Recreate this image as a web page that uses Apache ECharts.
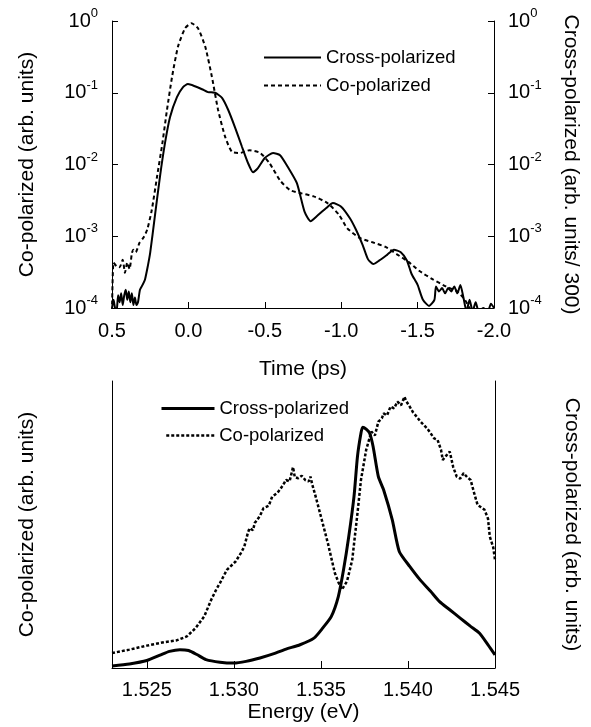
<!DOCTYPE html>
<html>
<head>
<meta charset="utf-8">
<script src="https://cdn.jsdelivr.net/npm/echarts@6/dist/echarts.min.js"></script>
<style>
html,body{margin:0;padding:0;background:#fff;}
#chart{width:591px;height:727px;}
</style>
</head>
<body>
<div id="chart"></div>
<script>
// ---- Top panel: time-resolved (log scale) ----
const timeCo = [0.50,0.49,0.47,0.45,0.43,0.415,0.40,0.385,0.37,0.36,0.345,0.32,0.295,0.27,0.24,0.205,0.17,0.14,0.107,0.068,0.022,-0.02,-0.063,-0.11,-0.154,-0.194,-0.24,-0.285,-0.34,-0.40,-0.47,-0.53,-0.60,-0.665,-0.73,-0.82,-0.91,-0.985,-1.04,-1.12,-1.20,-1.29,-1.365,-1.44,-1.51,-1.60,-1.685,-1.76,-1.81,-1.84,-1.87];
const coTop = [0.9e-4,4.3e-4,3.8e-4,3.7e-4,4.7e-4,3.1e-4,4.3e-4,3.5e-4,5.8e-4,6.5e-4,6.0e-4,8.1e-4,9.5e-4,1.23e-3,2.3e-3,6.8e-3,2.0e-2,5.8e-2,0.166,0.44,0.79,0.93,0.79,0.44,0.166,5.8e-2,2.45e-2,1.5e-2,1.45e-2,1.58e-2,1.45e-2,1.05e-2,6.0e-3,4.4e-3,4.0e-3,3.6e-3,2.9e-3,2.0e-3,1.29e-3,9.5e-4,8.3e-4,7.1e-4,5.6e-4,4.4e-4,3.3e-4,2.5e-4,2.0e-4,1.7e-4,1.3e-4,1.0e-4,0.8e-4];

const timeCross = [0.50,0.49,0.48,0.47,0.46,0.45,0.44,0.43,0.42,0.41,0.40,0.39,0.38,0.37,0.36,0.35,0.34,0.33,0.317,0.30,0.284,0.265,0.25,0.22,0.186,0.153,0.12,0.075,0.035,0.003,-0.043,-0.089,-0.128,-0.174,-0.22,-0.26,-0.305,-0.35,-0.39,-0.423,-0.455,-0.50,-0.554,-0.60,-0.65,-0.71,-0.76,-0.80,-0.84,-0.90,-0.946,-0.998,-1.057,-1.097,-1.14,-1.175,-1.21,-1.25,-1.30,-1.345,-1.39,-1.43,-1.46,-1.50,-1.535,-1.575,-1.61,-1.62,-1.64,-1.66,-1.68,-1.70,-1.72,-1.74,-1.76,-1.78,-1.80,-1.82,-1.84,-1.86,-1.88,-1.90,-1.93,-1.96,-1.98,-2.0];
const crossTop = [1.0e-4,1.3e-4,1.0e-4,0.9e-4,1.5e-4,1.2e-4,1.6e-4,1.1e-4,1.5e-4,1.8e-4,1.3e-4,1.7e-4,1.2e-4,1.6e-4,1.1e-4,1.4e-4,1.1e-4,1.2e-4,1.8e-4,2.1e-4,2.5e-4,3.9e-4,5.9e-4,1.86e-3,6.8e-3,2.0e-2,4.6e-2,8.7e-2,0.12,0.132,0.123,0.112,0.102,0.100,0.085,0.058,0.033,0.0178,0.0105,0.0078,0.0089,0.0123,0.0145,0.0135,0.0093,0.0055,0.0022,0.00162,0.0019,0.00245,0.0029,0.0026,0.00178,0.00123,7.6e-4,4.8e-4,4.1e-4,4.6e-4,5.5e-4,6.5e-4,6.0e-4,4.6e-4,3.0e-4,2.1e-4,1.3e-4,1.07e-4,1.3e-4,2.0e-4,1.7e-4,1.9e-4,1.6e-4,1.9e-4,1.7e-4,2.0e-4,1.6e-4,2.1e-4,1.4e-4,0.9e-4,1.3e-4,0.9e-4,1.2e-4,0.9e-4,1.0e-4,0.9e-4,1.15e-4,1.0e-4];

const timeTicks = [0.5, 0.0, -0.5, -1.0, -1.5, -2.0];

// ---- Bottom panel: spectra (linear, arb. units) ----
const energyCross = [1.5230,1.5240,1.5250,1.5258,1.5263,1.5269,1.5274,1.5279,1.5284,1.5292,1.5300,1.5307,1.5315,1.5323,1.5330,1.5338,1.5346,1.5351,1.5356,1.5360,1.5363,1.5366,1.5369,1.5371,1.5373,1.5374,1.5376,1.5378,1.5380,1.5383,1.5386,1.5391,1.5395,1.5401,1.5407,1.5413,1.5418,1.5424,1.5430,1.5436,1.5441,1.5446,1.5450];
const crossBottom = [0.007,0.014,0.026,0.046,0.058,0.064,0.061,0.046,0.029,0.020,0.017,0.023,0.035,0.050,0.066,0.081,0.104,0.139,0.180,0.249,0.342,0.458,0.597,0.737,0.818,0.839,0.832,0.818,0.771,0.667,0.621,0.516,0.406,0.354,0.307,0.267,0.232,0.203,0.174,0.145,0.122,0.081,0.046];

const energyCo = [1.5230,1.5240,1.5250,1.5260,1.5267,1.5273,1.5278,1.5283,1.5287,1.5290,1.5292,1.5296,1.5301,1.5304,1.5306,1.5308,1.5309,1.5311,1.5312,1.5315,1.5317,1.5320,1.5322,1.5325,1.5327,1.5330,1.5332,1.5334,1.5335,1.5337,1.5339,1.5341,1.5343,1.5344,1.5345,1.5347,1.5350,1.5354,1.5358,1.5360,1.5362,1.5365,1.5368,1.5371,1.5373,1.5376,1.5379,1.5381,1.5383,1.5385,1.5386,1.5388,1.5390,1.5392,1.5394,1.5396,1.5398,1.5399,1.5401,1.5403,1.5405,1.5407,1.5409,1.5411,1.5413,1.5415,1.5417,1.5419,1.5420,1.5422,1.5424,1.5426,1.5428,1.5430,1.5432,1.5434,1.5436,1.5438,1.5440,1.5442,1.5444,1.5446,1.5447,1.5449,1.5450];
const coBottom = [0.052,0.064,0.078,0.090,0.096,0.110,0.139,0.180,0.238,0.275,0.296,0.342,0.371,0.400,0.423,0.470,0.487,0.480,0.505,0.530,0.557,0.565,0.597,0.610,0.626,0.655,0.650,0.700,0.665,0.661,0.670,0.655,0.650,0.667,0.640,0.597,0.528,0.435,0.331,0.300,0.273,0.302,0.377,0.539,0.655,0.760,0.824,0.810,0.858,0.870,0.887,0.880,0.911,0.905,0.928,0.915,0.945,0.930,0.911,0.890,0.876,0.860,0.847,0.835,0.818,0.800,0.795,0.760,0.725,0.740,0.754,0.700,0.667,0.660,0.679,0.665,0.655,0.610,0.568,0.560,0.551,0.520,0.458,0.420,0.377];

const energyTicks = [1.525, 1.530, 1.535, 1.540, 1.545];

const zip = (xs, ys) => xs.map((x, i) => [x, ys[i]]);
const FONT = "'Liberation Sans', Arial, Helvetica, sans-serif";
const BLACK = '#000';

const logLabel = {
  color: BLACK, margin: 14,
  formatter: v => '{b|10}{s|' + Math.round(Math.log10(v)) + '}',
  rich: {
    b: { fontSize: 20, lineHeight: 28, fontFamily: FONT, color: BLACK },
    s: { fontSize: 13, lineHeight: 14, verticalAlign: 'top', fontFamily: FONT, color: BLACK }
  }
};
const axLine = { show: true, onZero: false, lineStyle: { color: BLACK, width: 1 } };
const nameStyle = { fontSize: 21, fontFamily: FONT, color: BLACK };
const legendText = { fontSize: 18.5, fontFamily: FONT, color: BLACK };
const hiddenSymbol = { opacity: 0, borderWidth: 0 };

const chart = echarts.init(document.getElementById('chart'), null, { renderer: 'canvas' });
chart.setOption({
  animation: false,
  backgroundColor: '#fff',
  textStyle: { fontFamily: FONT, color: BLACK },
  grid: [
    { left: 112, right: 97, top: 21, height: 287 },
    { left: 112, right: 96, top: 381, height: 287 }
  ],
  legend: [
    { left: 258, top: 43, orient: 'vertical', itemWidth: 57, itemHeight: 18, itemGap: 9,
      icon: 'inherit', itemStyle: hiddenSymbol, selectedMode: false,
      data: ['Cross-polarized', 'Co-polarized'], textStyle: legendText },
    { left: 155, top: 394, itemWidth: 53, itemHeight: 18, selectedMode: false,
      icon: 'inherit', itemStyle: hiddenSymbol,
      data: [{ name: 'Cross-polarized', lineStyle: { width: 3, color: BLACK, type: 'solid' } }],
      textStyle: legendText },
    { left: 160, top: 421, itemWidth: 48, itemHeight: 18, selectedMode: false,
      icon: 'inherit', itemStyle: hiddenSymbol,
      data: [{ name: 'Co-polarized', lineStyle: { width: 2.5, color: BLACK, type: [3, 2] } }],
      textStyle: legendText }
  ],
  xAxis: [
    { gridIndex: 0, type: 'value', min: -2.0, max: 0.5, interval: 0.5, inverse: true,
      axisLine: axLine, axisTick: { inside: true, length: 6, lineStyle: { color: BLACK } },
      axisLabel: { fontSize: 20, color: BLACK, margin: 13, showMinLabel: true, showMaxLabel: true,
        customValues: timeTicks, formatter: v => v.toFixed(1) },
      splitLine: { show: false },
      name: 'Time (ps)', nameLocation: 'middle', nameGap: 51, nameTextStyle: nameStyle },
    { gridIndex: 1, type: 'value', min: 1.523, max: 1.545,
      axisLine: axLine,
      axisTick: { inside: true, length: 7, customValues: energyTicks, lineStyle: { color: BLACK } },
      axisLabel: { fontSize: 20, color: BLACK, margin: 12, customValues: energyTicks, formatter: v => v.toFixed(3) },
      splitLine: { show: false },
      name: 'Energy (eV)', nameLocation: 'middle', nameGap: 34, nameTextStyle: nameStyle }
  ],
  yAxis: [
    { gridIndex: 0, type: 'log', logBase: 10, min: 1e-4, max: 1, position: 'left',
      axisLine: axLine, axisTick: { inside: true, length: 6, lineStyle: { color: BLACK } },
      axisLabel: logLabel, splitLine: { show: false }, minorTick: { show: false },
      name: 'Co-polarized (arb. units)', nameLocation: 'middle', nameRotate: 90, nameGap: 74, nameTextStyle: nameStyle },
    { gridIndex: 0, type: 'log', logBase: 10, min: 1e-4, max: 1, position: 'right',
      axisLine: axLine, axisTick: { inside: true, length: 6, lineStyle: { color: BLACK } },
      axisLabel: logLabel, splitLine: { show: false },
      name: 'Cross-polarized (arb. units/ 300)', nameLocation: 'middle', nameRotate: -90, nameGap: 66, nameTextStyle: nameStyle },
    { gridIndex: 1, type: 'value', min: 0, max: 1, position: 'left',
      axisLine: axLine, axisTick: { show: false }, axisLabel: { show: false }, splitLine: { show: false },
      name: 'Co-polarized (arb. units)', nameLocation: 'middle', nameRotate: 90, nameGap: 74, nameTextStyle: nameStyle },
    { gridIndex: 1, type: 'value', min: 0, max: 1, position: 'right',
      axisLine: axLine, axisTick: { show: false }, axisLabel: { show: false }, splitLine: { show: false },
      name: 'Cross-polarized (arb. units)', nameLocation: 'middle', nameRotate: -90, nameGap: 66, nameTextStyle: nameStyle }
  ],
  series: [
    { name: 'Cross-polarized', type: 'line', xAxisIndex: 0, yAxisIndex: 1, data: zip(timeCross, crossTop),
      symbol: 'none', smooth: 0.2, clip: true, itemStyle: { color: BLACK },
      lineStyle: { color: BLACK, width: 2 } },
    { name: 'Co-polarized', type: 'line', xAxisIndex: 0, yAxisIndex: 0, data: zip(timeCo, coTop),
      symbol: 'none', smooth: 0.2, clip: true, itemStyle: { color: BLACK },
      lineStyle: { color: BLACK, width: 2, type: [4, 3] } },
    { name: 'Cross-polarized', type: 'line', xAxisIndex: 1, yAxisIndex: 3, data: zip(energyCross, crossBottom),
      symbol: 'none', smooth: 0.2, clip: true, itemStyle: { color: BLACK },
      lineStyle: { color: BLACK, width: 3 } },
    { name: 'Co-polarized', type: 'line', xAxisIndex: 1, yAxisIndex: 2, data: zip(energyCo, coBottom),
      symbol: 'none', clip: true, itemStyle: { color: BLACK },
      lineStyle: { color: BLACK, width: 2.5, type: [3, 2] } }
  ]
});
</script>
</body>
</html>
